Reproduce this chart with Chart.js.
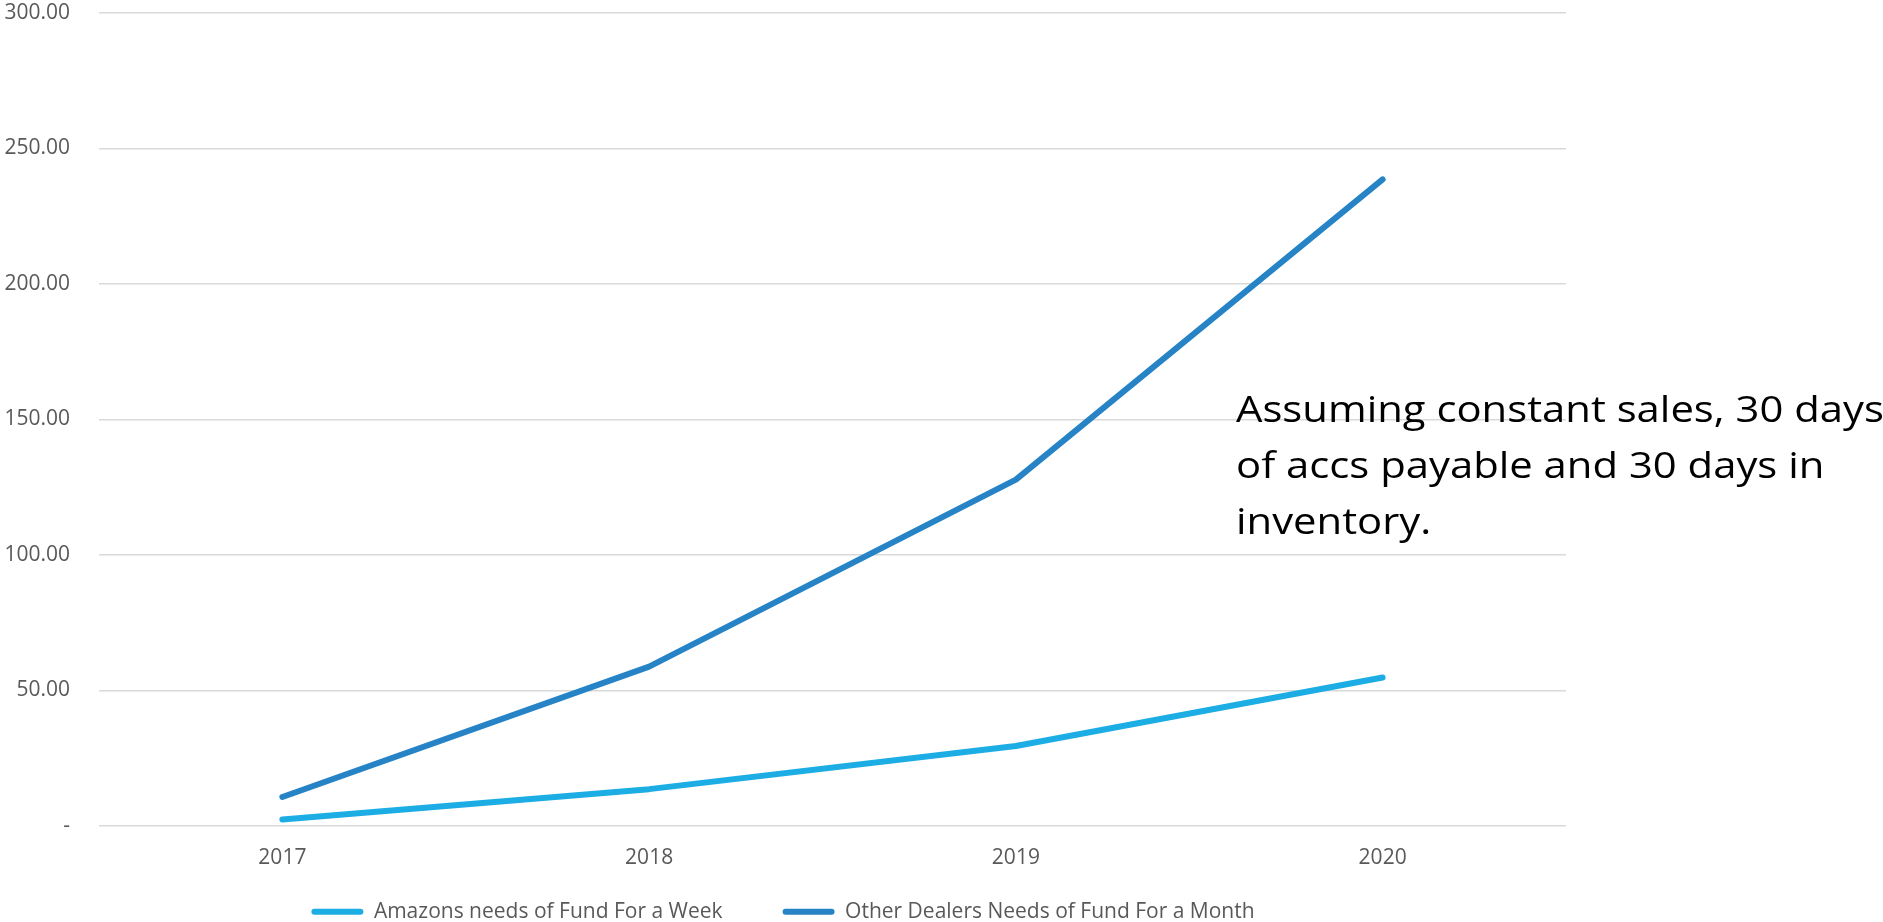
<!DOCTYPE html>
<html>
<head>
<meta charset="utf-8">
<script src="https://cdn.jsdelivr.net/npm/chart.js@4.4.1/dist/chart.umd.min.js"></script>
<style>
  html, body { margin: 0; padding: 0; background: #ffffff; overflow: hidden; }
  #wrap { position: relative; width: 1883px; height: 922px; overflow: hidden; }
  #note {
    position: absolute; left: 1236px; top: 380px;
    font-family: "Open Sans", sans-serif; font-size: 37px; line-height: 55.8px;
    color: #000000; white-space: nowrap;
    transform: scaleX(1.13); transform-origin: 0 0;
  }
</style>
</head>
<body>
<div id="wrap">
  <canvas id="c" width="1883" height="922"></canvas>
  <div id="note">Assuming constant sales, 30 days<br>of accs payable and 30 days in<br>inventory.</div>
</div>
<script>
const categories = ["2017", "2018", "2019", "2020"];
const amazonWeek = [2.4, 13.6, 29.5, 54.8];
const dealersMonth = [10.7, 58.8, 127.8, 238.6];
const seriesNames = ["Amazons needs of Fund For a Week", "Other Dealers Needs of Fund For a Month"];
const seriesColors = ["#1CADE4", "#2683C6"];
const yTicks = { min: 0, max: 300, step: 50 };

const ctx = document.getElementById('c').getContext('2d');
new Chart(ctx, {
  type: 'line',
  data: {
    labels: categories,
    datasets: [
      { label: seriesNames[0], data: amazonWeek, borderColor: seriesColors[0], backgroundColor: seriesColors[0],
        borderWidth: 6, pointRadius: 0, borderCapStyle: 'round', borderJoinStyle: 'round', tension: 0 },
      { label: seriesNames[1], data: dealersMonth, borderColor: seriesColors[1], backgroundColor: seriesColors[1],
        borderWidth: 6, pointRadius: 0, borderCapStyle: 'round', borderJoinStyle: 'round', tension: 0 }
    ]
  },
  options: {
    responsive: false,
    animation: false,
    layout: { padding: { left: 0, right: 317, top: 13, bottom: 0 } },
    plugins: {
      tooltip: { enabled: false },
      legend: {
        position: 'bottom',
        maxHeight: 50,
        title: { display: true, text: '', font: { size: 1 }, padding: { top: -16, bottom: -16 } },
        labels: {
          font: { family: "'Open Sans', sans-serif", size: 21 },
          color: '#595959',
          boxWidth: 52,
          boxHeight: 6,
          useBorderRadius: true,
          borderRadius: 3,
          padding: 60,
          generateLabels(chart) {
            return chart.data.datasets.map((d, i) => ({
              text: d.label, fillStyle: d.borderColor, strokeStyle: d.borderColor,
              lineWidth: 0, hidden: false, datasetIndex: i, fontColor: '#595959',
              borderRadius: 3
            }));
          }
        }
      }
    },
    scales: {
      x: {
        offset: true,
        afterFit(scale) { scale.height = 46; },
        grid: { display: false, drawTicks: false },
        border: { display: false },
        ticks: { color: '#595959', font: { family: "'Open Sans', sans-serif", size: 21 }, padding: 19 }
      },
      y: {
        min: yTicks.min, max: yTicks.max,
        afterFit(scale) { scale.width = 99; },
        grid: { color: '#d9d9d9', lineWidth: 1.5, drawTicks: true, tickLength: 29, tickColor: 'rgba(0,0,0,0)' },
        border: { display: false },
        ticks: {
          stepSize: yTicks.step,
          color: '#595959',
          font: { family: "'Open Sans', sans-serif", size: 21 },
          padding: 0,
          callback: v => v === 0 ? '-' : v.toFixed(2)
        }
      }
    }
  }
});
</script>
</body>
</html>
